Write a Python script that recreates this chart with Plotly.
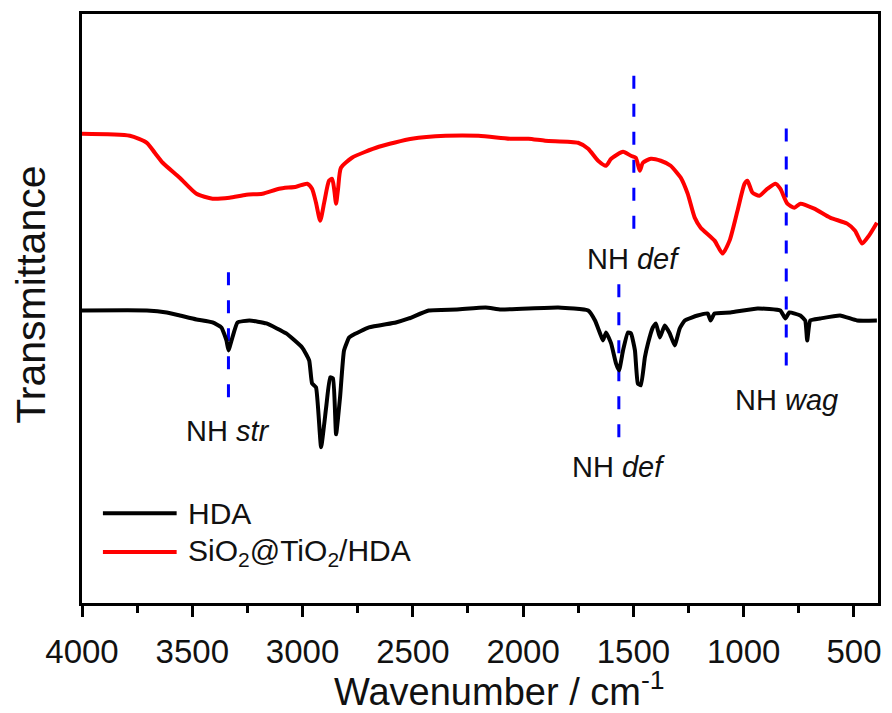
import plotly.graph_objects as go

# FTIR spectra, transmittance in arbitrary units (curves offset vertically)
hda_wn = [4000, 3706, 3616, 3557, 3481, 3408, 3368, 3345, 3336, 3318, 3295, 3241, 3164,
          3074, 3002, 2970, 2957, 2939, 2916, 2893, 2875, 2862, 2848, 2830, 2812, 2789,
          2776, 2699, 2577, 2518, 2428, 2300, 2170, 2100, 1841, 1705, 1674, 1651, 1638,
          1624, 1601, 1579, 1565, 1547, 1525, 1511, 1493, 1480, 1466, 1448, 1434, 1412,
          1398, 1380, 1358, 1335, 1313, 1290, 1267, 1209, 1163, 1150, 1132, 1060, 937,
          834, 811, 793, 743, 721, 712, 698, 653, 563, 486, 396]
hda_t = [293, 293, 291, 288, 284, 281, 276, 263, 253, 266, 281, 283, 280,
         270, 256, 243, 220, 216, 156, 196, 226, 225, 169, 206, 253, 266,
         268, 276, 281, 285, 293, 294, 296, 294, 296, 293, 283, 270, 263,
         271, 260, 240, 233, 253, 271, 270, 253, 220, 218, 246, 260, 276,
         280, 266, 278, 270, 258, 275, 283, 288, 290, 283, 290, 291, 295,
         293, 285, 291, 288, 283, 263, 283, 285, 288, 283, 283]

comp_wn = [4000, 3783, 3706, 3670, 3634, 3557, 3481, 3408, 3331, 3255, 3182, 3106, 3029,
           2979, 2957, 2939, 2920, 2902, 2880, 2866, 2857, 2848, 2839, 2826, 2776, 2654,
           2505, 2351, 2202, 2053, 1976, 1900, 1751, 1705, 1660, 1624, 1601, 1547, 1511,
           1489, 1471, 1457, 1421, 1376, 1331, 1299, 1285, 1254, 1222, 1195, 1132, 1096,
           1064, 1028, 996, 983, 960, 929, 892, 856, 834, 802, 770, 743, 680, 608, 531,
           495, 463, 432, 396]
comp_t = [470, 468, 461, 451, 441, 426, 410, 405, 406, 409, 410, 415, 417,
          420, 415, 401, 383, 401, 423, 425, 415, 400, 415, 436, 446, 457,
          465, 468, 468, 465, 465, 463, 461, 455, 443, 438, 445, 452, 448,
          446, 433, 441, 445, 443, 438, 430, 426, 410, 386, 376, 363, 350,
          363, 393, 420, 423, 411, 408, 415, 420, 415, 400, 396, 400, 395, 386, 380,
          373, 360, 368, 381]

# Band markers: position, vertical extent, label and label height
band_wn = [3336, 1566, 1498, 807]
band_y0 = [206, 166, 375, 238]
band_y1 = [335, 323, 532, 485]
band_labels = ["NH <i>str</i>", "NH <i>def</i>", "NH <i>def</i>", "NH <i>wag</i>"]
label_y = [172, 136, 345, 203]

FONT = "Liberation Sans, Arial, sans-serif"

fig = go.Figure()

for wn, y0, y1 in zip(band_wn, band_y0, band_y1):
    fig.add_trace(go.Scatter(x=[wn, wn], y=[y0, y1], mode="lines", showlegend=False,
                             line=dict(color="#0000ff", width=3, dash="13px,15px"),
                             hoverinfo="skip"))

fig.add_trace(go.Scatter(x=comp_wn, y=comp_t, mode="lines", name="SiO2@TiO2/HDA",
                         line=dict(color="#ff0000", width=4, shape="spline", smoothing=0.6),
                         showlegend=False))
fig.add_trace(go.Scatter(x=hda_wn, y=hda_t, mode="lines", name="HDA",
                         line=dict(color="#000000", width=4, shape="spline", smoothing=0.4),
                         showlegend=False))

for wn, lab, ly in zip(band_wn, band_labels, label_y):
    fig.add_annotation(x=wn, y=ly, text=lab, showarrow=False, xanchor="center",
                       yanchor="middle", font=dict(family=FONT, size=29, color="#111"))

# Legend drawn in paper coordinates
L, W, T, H = 82, 799, 13, 590
def px(x):
    return (x - L) / W
def py(y):
    return 1 - (y - T) / H

legend_items = [("HDA", "#000000", 513),
                ("SiO<sub>2</sub>@TiO<sub>2</sub>/HDA", "#ff0000", 552)]
for text, col, yy in legend_items:
    fig.add_shape(type="line", xref="paper", yref="paper", x0=px(103), x1=px(177),
                  y0=py(yy), y1=py(yy), line=dict(color=col, width=4))
    fig.add_annotation(xref="paper", yref="paper", x=px(186), y=py(yy), text=text,
                       showarrow=False, xanchor="left", yanchor="middle",
                       font=dict(family=FONT, size=30, color="#111"))

fig.add_annotation(xref="paper", yref="paper", x=px(30), y=py(294), text="Transmittance",
                   showarrow=False, textangle=-90, xanchor="center", yanchor="middle",
                   font=dict(family=FONT, size=41, color="#111"))
fig.add_annotation(xref="paper", yref="paper", x=px(333), y=py(689),
                   text="Wavenumber / cm<sup>-1</sup>", showarrow=False, xanchor="left",
                   yanchor="middle", font=dict(family=FONT, size=38, color="#111"))

fig.update_xaxes(range=[4000, 391], showline=True, linecolor="black", linewidth=3,
                 mirror=True, ticks="outside", ticklen=11, tickwidth=3, tickcolor="black",
                 tick0=500, dtick=500, showgrid=False, zeroline=False,
                 ticklabelstandoff=6,
                 tickfont=dict(family=FONT, size=33, color="#111"),
                 minor=dict(ticks="outside", ticklen=7, tickwidth=3, tickcolor="black",
                            dtick=250, showgrid=False))
fig.update_yaxes(range=[0, 590], showline=True, linecolor="black", linewidth=3,
                 mirror=True, ticks="", showticklabels=False, showgrid=False,
                 zeroline=False)

fig.update_layout(width=892, height=713, margin=dict(l=82, r=11, t=13, b=110),
                  plot_bgcolor="white", paper_bgcolor="white", showlegend=False)

fig.write_html("out.html")
